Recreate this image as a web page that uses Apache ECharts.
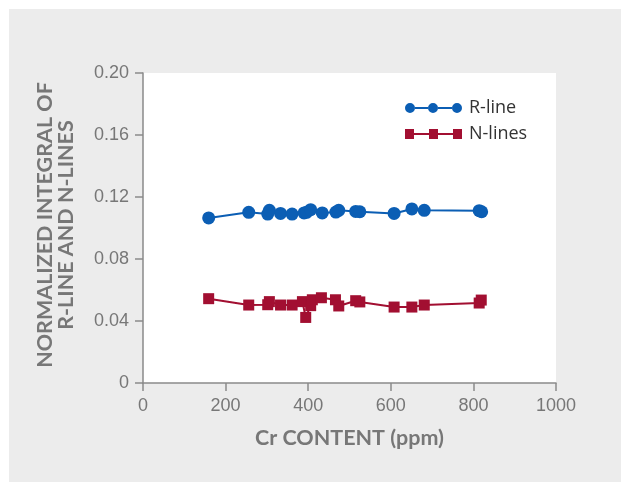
<!DOCTYPE html>
<html>
<head>
<meta charset="utf-8">
<script src="https://cdn.jsdelivr.net/npm/echarts@6/dist/echarts.min.js"></script>
<style>
html,body{margin:0;padding:0;background:#ffffff;}
#chart{position:absolute;left:9px;top:9px;width:612px;height:473px;}
</style>
</head>
<body>
<div id="chart"></div>
<script>
// Cr content (ppm) and normalized integrals
const rLineX = [159, 256, 302, 306, 333, 361, 390, 396, 406, 434, 467, 474, 515, 525, 608, 651, 681, 814, 820];
const rLineY = [0.1065, 0.1101, 0.1090, 0.1114, 0.1094, 0.1090, 0.1097, 0.1101, 0.1118, 0.1097, 0.1103, 0.1114, 0.1107, 0.1105, 0.1094, 0.1123, 0.1114, 0.1112, 0.1105];
const nLinesX = [159, 256, 302, 306, 333, 361, 386, 394, 406, 410, 432, 466, 474, 515, 525, 608, 651, 681, 814, 819];
const nLinesY = [0.0544, 0.0503, 0.0505, 0.0525, 0.0503, 0.0503, 0.0525, 0.0423, 0.0499, 0.0537, 0.0550, 0.0537, 0.0497, 0.0531, 0.0523, 0.0490, 0.0490, 0.0503, 0.0516, 0.0535];
const xTicks = [0, 200, 400, 600, 800, 1000];
const yTicks = [0, 0.04, 0.08, 0.12, 0.16, 0.20];
const seriesNames = ['R-line', 'N-lines'];
const xTitle = 'Cr CONTENT (ppm)';
const yTitle = 'NORMALIZED INTEGRAL OF\nR-LINE AND N-LINES';

const blue = '#0b5eb4';
const red = '#a20f31';
const axisGray = '#8a8a8a';
const textGray = '#777777';

const circleIcon = 'path://M0,5a5,5 0 1,0 10,0a5,5 0 1,0 -10,0z' +
  'M23,5a5,5 0 1,0 10,0a5,5 0 1,0 -10,0z' +
  'M47,5a5,5 0 1,0 10,0a5,5 0 1,0 -10,0z' +
  'M10,4h13v2h-13z M33,4h14v2h-14z';
const squareIcon = 'path://M0,0h9v10h-9z M24,0h9v10h-9z M48,0h9v10h-9z M9,4h15v2h-15z M33,4h15v2h-15z';

const chart = echarts.init(document.getElementById('chart'));
chart.setOption({
  backgroundColor: '#ececec',
  animation: false,
  grid: {left: 134, top: 64, right: 65, bottom: 99, show: true, backgroundColor: '#ffffff', borderWidth: 0},
  legend: {
    left: 391, top: 85, orient: 'vertical', itemWidth: 57, itemHeight: 10, itemGap: 8,
    textStyle: {fontFamily: 'Open Sans', fontSize: 18, color: '#333333', padding: [0,0,0,2]},
    data: [
      {name: seriesNames[0], icon: circleIcon},
      {name: seriesNames[1], icon: squareIcon}
    ]
  },
  xAxis: {
    type: 'value', min: xTicks[0], max: xTicks[xTicks.length-1], interval: 200,
    name: xTitle, nameLocation: 'middle', nameGap: 44,
    nameTextStyle: {fontFamily: 'Lato', fontWeight: 'bold', fontSize: 21.5, color: textGray},
    axisLine: {show: true, onZero: false, lineStyle: {color: axisGray, width: 1.5}},
    axisTick: {show: true, inside: false, length: 8, lineStyle: {color: axisGray, width: 1.5}},
    axisLabel: {margin: 14, fontFamily: 'Liberation Sans', fontSize: 18, color: textGray,
      formatter: v => String(v)},
    splitLine: {show: false}
  },
  yAxis: {
    type: 'value', min: yTicks[0], max: yTicks[yTicks.length-1], interval: 0.04,
    name: yTitle, nameLocation: 'middle', nameGap: 66,
    nameTextStyle: {fontFamily: 'Lato', fontWeight: 'bold', fontSize: 21.5, color: textGray, lineHeight: 21, padding: [0, 0, 0, 6]},
    axisLine: {show: true, onZero: false, lineStyle: {color: axisGray, width: 1.5}},
    axisTick: {show: true, inside: false, length: 8, lineStyle: {color: axisGray, width: 1.5}},
    axisLabel: {margin: 14, fontFamily: 'Liberation Sans', fontSize: 18, color: textGray,
      formatter: v => v === 0 ? '0' : v.toFixed(2)},
    splitLine: {show: false}
  },
  series: [
    {
      name: seriesNames[0], type: 'line', symbol: 'circle', symbolSize: 13,
      itemStyle: {color: blue}, lineStyle: {color: blue, width: 2},
      data: rLineX.map((x, i) => [x, rLineY[i]])
    },
    {
      name: seriesNames[1], type: 'line', symbol: 'rect', symbolSize: 11,
      itemStyle: {color: red}, lineStyle: {color: red, width: 2},
      data: nLinesX.map((x, i) => [x, nLinesY[i]])
    }
  ]
});
</script>
</body>
</html>
